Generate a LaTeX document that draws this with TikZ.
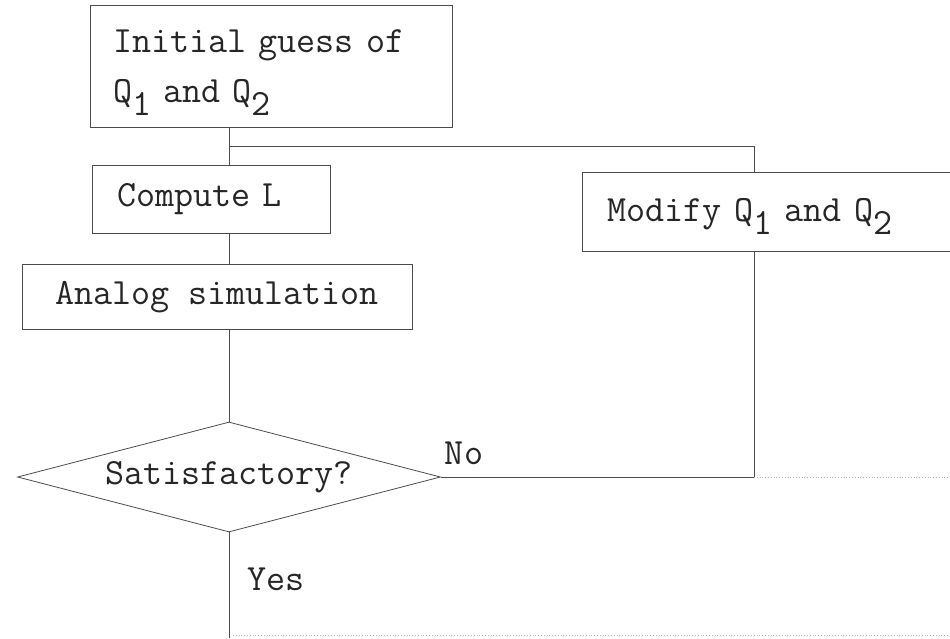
\documentclass[tikz,border=0pt]{standalone}
\usetikzlibrary{shapes.geometric}

% typewriter style subscript: same size, just dropped
\newcommand\lowsub[1]{\raisebox{-0.35em}{#1}}

\begin{document}
\begin{tikzpicture}[
    x=1pt, y=-1pt,
    every node/.style = {
        font=\fontsize{37}{50}\selectfont\ttfamily, text=black!85
    },
    proc/.style = {
        rectangle, draw=black!70, line width=0.8pt, inner ysep=0pt
    },
    decision/.style = {
        diamond, draw=black!70, line width=0.8pt, aspect=3.85, inner sep=0pt,
        minimum width=423pt, minimum height=110pt
    },
    flow/.style = {draw=black!70, line width=0.8pt},
    faint/.style = {draw=black!30, line width=0.8pt, dotted}
]
\useasboundingbox (0,0) rectangle (950,638);
\clip (0,0) rectangle (950,638);

% ── Process boxes ──
\node[proc, align=left, text width=316pt, inner xsep=23pt, minimum height=122pt] (guess) at (271,66) {\rule{0pt}{36pt}Initial guess of\\Q\lowsub{1} and Q\lowsub{2}};
\node[proc, align=left, text width=188pt, inner xsep=25pt, minimum height=68pt] (compute) at (211,199) {Compute L};
\node[proc, minimum width=390pt, minimum height=65pt] (analog) at (217,297) {Analog simulation};
\node[proc, align=left, text width=327pt, inner xsep=25pt, minimum height=79pt] (modify) at (771,212) {\rule{0pt}{32pt}Modify Q\lowsub{1} and Q\lowsub{2}};

% ── Decision ──
\node[decision] (check) at (229,477) {Satisfactory?};

% ── Branch labels ──
\node (no)  at (464,453) {No};
\node (yes) at (276,579) {Yes};

% ── Helper coordinates ──
\coordinate (spine) at (229,0);
\coordinate (split) at (229,146);
\coordinate (loopx) at (754,0);
\coordinate (exit)  at (229,638);
\coordinate (edgeR) at (950,477);
\coordinate (foot)  at (233,635);
\coordinate (edgeB) at (950,635);

% ── Main line ──
\draw[flow] (guess.south -| spine) -- (compute.north -| spine);
\draw[flow] (compute.south -| spine) -- (analog.north -| spine);
\draw[flow] (analog.south -| spine) -- (check.north);
\draw[flow] (check.south) -- (exit);

% ── Loop back ──
\draw[flow] (split) -| (modify.north -| loopx);
\draw[flow] (check.east) -- (check.east -| loopx) -- (modify.south -| loopx);

% ── Faint continuations ──
\draw[faint] (check.east -| loopx) -- (edgeR);
\draw[faint] (foot) -- (edgeB);

\end{tikzpicture}
\end{document}
